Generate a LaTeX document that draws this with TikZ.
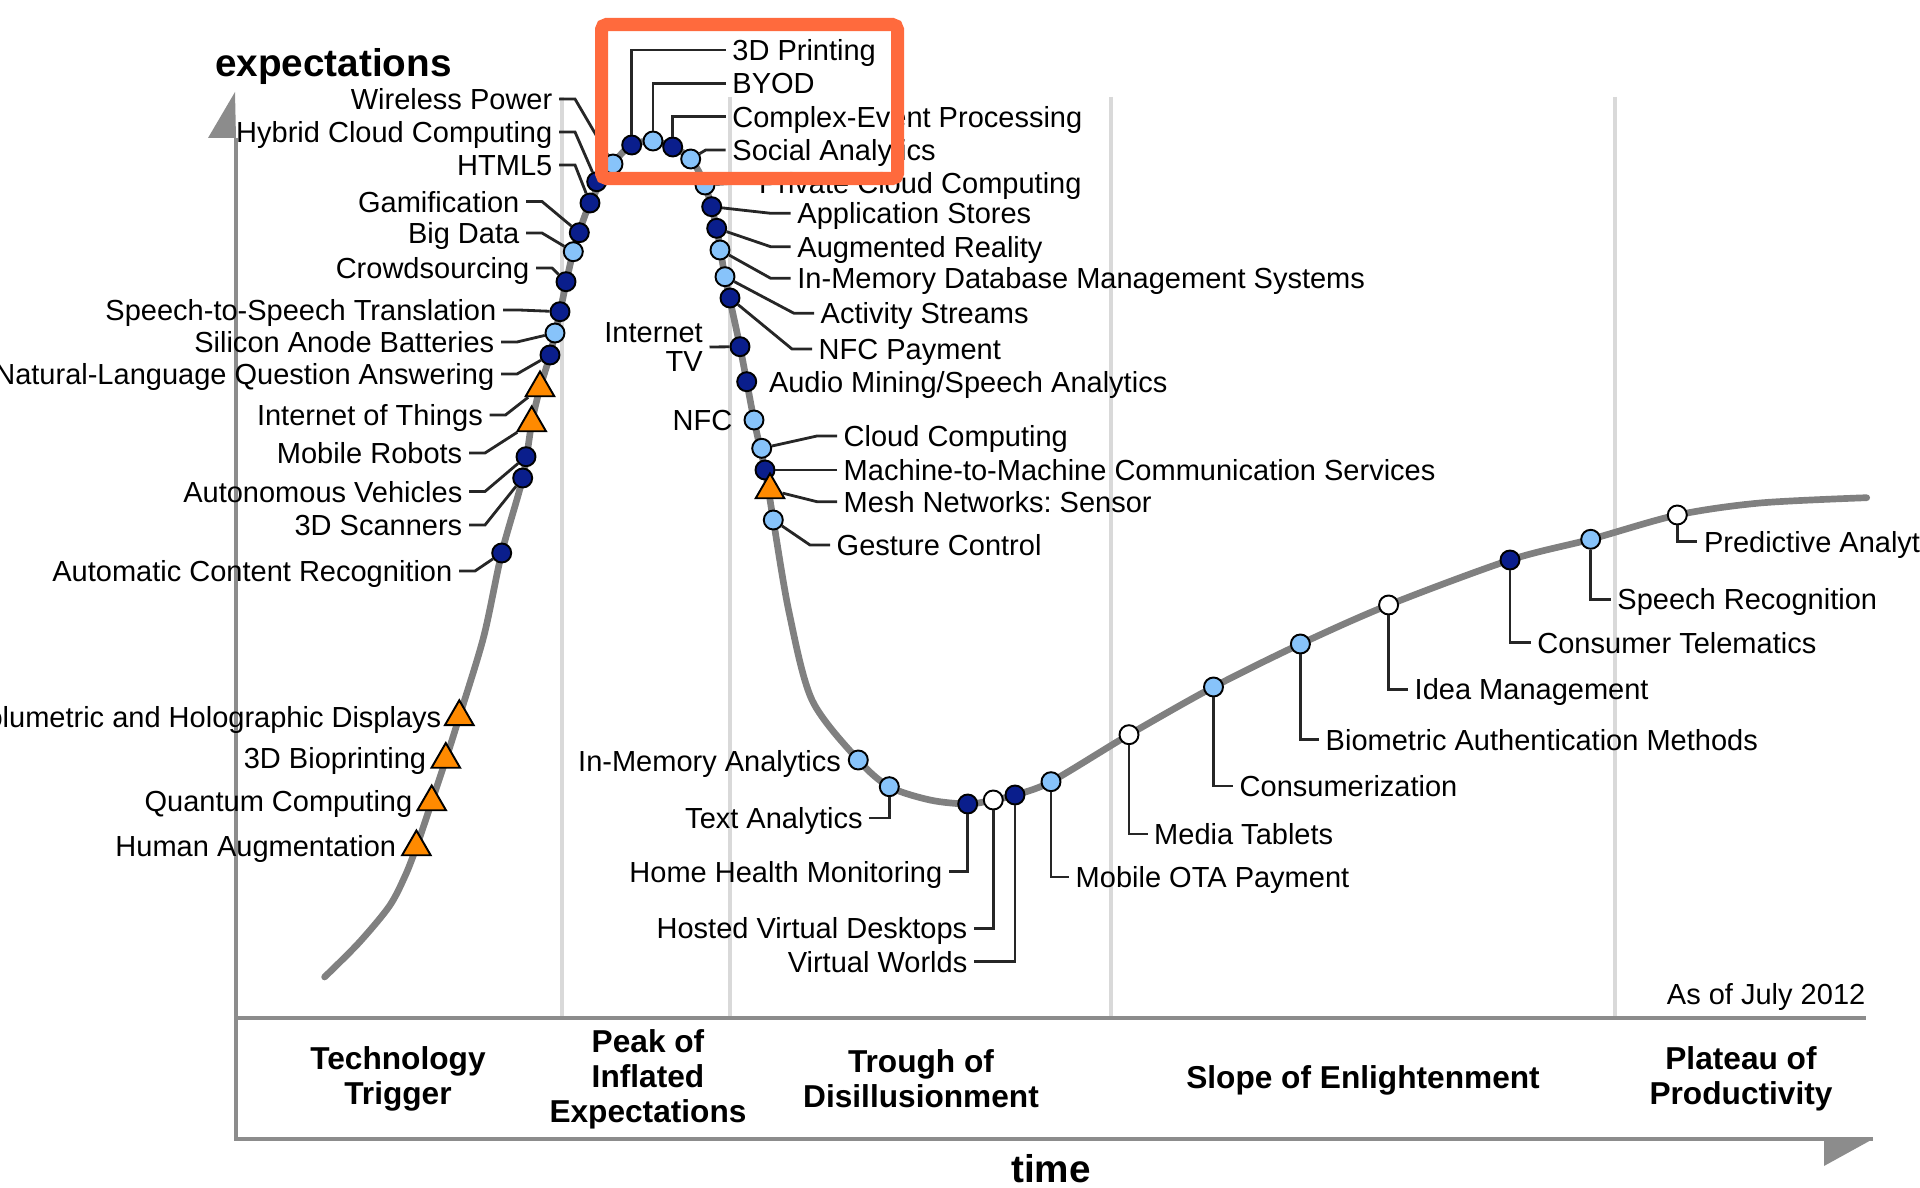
\documentclass[tikz,border=0pt]{standalone}
\usepackage{fontspec}
\setmainfont{Liberation Sans}
\usetikzlibrary{shapes.geometric}
\definecolor{dotnavy}{HTML}{0A1E8C}
\definecolor{dotlight}{HTML}{87C3FA}
\definecolor{dotorange}{HTML}{FF8A00}
\definecolor{hilite}{HTML}{FF6A3D}
\newcommand{\lblsize}{\fontsize{8.25}{9.9}\selectfont}
\newcommand{\phasesize}{\fontsize{9}{9.96}\selectfont\bfseries}
\newcommand{\axissize}{\fontsize{11}{13}\selectfont\bfseries}
\frenchspacing
\tikzset{
  markbase/.style={draw=black, line width=0.55pt, inner sep=0pt},
  navydot/.style={markbase, circle, fill=dotnavy, minimum size=0.19cm},
  lightdot/.style={markbase, circle, fill=dotlight, minimum size=0.19cm},
  whitedot/.style={markbase, circle, fill=white, minimum size=0.19cm},
  oratri/.style={markbase, regular polygon, regular polygon sides=3,
    fill=dotorange, minimum size=0.33cm},
  lbl/.style={font=\lblsize, inner xsep=0.06cm, inner ysep=0pt,
    text height=0.21cm, text depth=0pt},
  phase/.style={font=\phasesize, align=center, inner sep=0pt},
  leader/.style={draw=black!85, line width=0.8pt},
  axisline/.style={draw=black!45, line width=1pt},
  sepline/.style={draw=black!15, line width=1.3pt}
}

\begin{document}
\begin{tikzpicture}[x=0.01cm, y=-0.01cm]
  \useasboundingbox (0,0) rectangle (1920,1188);
  \foreach \x in {562, 730, 1111, 1615}
    \draw[sepline] (\x, 97) -- (\x, 1018);
  \draw[axisline] (236, 138) -- (236, 1139) -- (1873, 1139);
  \draw[axisline] (236, 1018) -- (1866, 1018);
  \fill[black!45] (235, 92) -- (208, 138) -- (236, 138) -- cycle;
  \fill[black!45] (1873, 1139) -- (1824, 1139) -- (1824, 1166) -- cycle;
  \node[font=\axissize, anchor=base, inner sep=0pt] (ylabel) at (333.5, 77) {expectations};
  \node[font=\axissize, anchor=base, inner sep=0pt] (xlabel) at (1051, 1182) {time};
  \node[lbl, anchor=east] (asof) at (1872, 993.6) {As of July 2012};

  \node[phase] (trigger) at (398, 1079) {Technology\\Trigger};
  \node[phase] (peak) at (648, 1079) {Peak of\\Inflated\\Expectations};
  \node[phase] (trough) at (921, 1079) {Trough of\\Disillusionment};
  \node[phase] (slope) at (1363, 1080) {Slope of Enlightenment};
  \node[phase] (plateau) at (1741, 1079) {Plateau of\\Productivity};

  \draw[black!50, line width=1.9pt, line cap=round] plot[smooth, tension=0.5] coordinates {
    (324.6,977) (358.8,942.9) (389.4,906.1) (405.3,875.5) (416.4,847) (431.7,802)
    (445.8,759.5) (459.3,716.8) (483.7,636.7) (501.7,553) (522.7,478) (531.7,423)
    (540,388) (550,355) (560,311.7) (573.3,251.7) (590,203) (613,164) (631.7,145)
    (653,141) (672.7,147) (690.7,159) (705,185) (716.7,228.3) (725,276.7)
    (740,346.7) (754,420) (765,470) (773.3,520) (789,612) (812,700) (858.3,760)
    (889.3,786.7) (930,800) (967.7,804) (993.3,800) (1015,795) (1051,781.7)
    (1129,734.7) (1213.5,687) (1300.4,644) (1388.6,605) (1510,560) (1590.7,539.3)
    (1677.3,515) (1760,503) (1866.7,497.7)};

  \foreach \n/\s/\mx/\my/\lx/\ly/\t in {
      wp/lightdot/613/164/559/99/Wireless Power,
      hy/navydot/596.7/181.7/559/132/Hybrid Cloud Computing,
      ht/navydot/590/203/559/165/HTML5,
      ga/navydot/579.3/232.7/526/201.5/Gamification,
      bd/lightdot/573.3/251.7/526/233/Big Data,
      cs/navydot/566/281.7/536/268/Crowdsourcing,
      ss/navydot/560/311.7/503/310/Speech-to-Speech Translation,
      sa/lightdot/555/333/501/342/Silicon Anode Batteries,
      nl/navydot/550/355/501/374/Natural-Language Question Answering,
      io/oratri/540/388/489.5/415/Internet of Things,
      mr/oratri/531.7/423/469/453/Mobile Robots,
      av/navydot/526/456.7/469/491.5/Autonomous Vehicles,
      sc/navydot/522.7/478/469/525/3D Scanners,
      ac/navydot/501.7/553/459/571/Automatic Content Recognition} {
    \node[lbl, anchor=east] (l-\n) at (\lx, \ly) {\t};
    \node[\s] (m-\n) at (\mx, \my) {};
    \draw[leader] (l-\n.east) -- ++(16, 0) -- (m-\n);
  }

  \foreach \n/\mx/\my/\lx/\ly/\t in {
      vh/459.3/716.8/448/716.8/Volumetric and Holographic Displays,
      bp/445.8/759.5/432.8/757.5/3D Bioprinting,
      qc/431.7/802/419/801.4/Quantum Computing,
      hu/416.4/847/402.8/846.2/Human Augmentation} {
    \node[lbl, anchor=east] (l-\n) at (\lx, \ly) {\t};
    \node[oratri] (m-\n) at (\mx, \my) {};
  }

  \foreach \n/\s/\mx/\my/\ly/\t in {
      pr/navydot/631.7/145/50/3D Printing,
      by/lightdot/653/141/83.3/BYOD,
      ce/navydot/672.7/147/116.7/Complex-Event Processing} {
    \node[lbl, anchor=west] (l-\n) at (725.7, \ly) {\t};
    \node[\s] (m-\n) at (\mx, \my) {};
    \draw[leader] (m-\n) |- (l-\n.west);
  }

  \foreach \n/\s/\mx/\my/\lx/\ly/\t in {
      so/lightdot/690.7/159/725.7/150/Social Analytics,
      pc/lightdot/705/185/752.3/183.3/Private Cloud Computing,
      as/navydot/711.7/206.7/790.7/213.3/Application Stores,
      ar/navydot/716.7/228.3/790.7/246.7/Augmented Reality,
      im/lightdot/720/250/790.7/278.3/In-Memory Database Management Systems,
      at/lightdot/725/276.7/814/313.3/Activity Streams,
      np/navydot/730/298/812/349/NFC Payment,
      cc/lightdot/761.7/448.3/837/436/Cloud Computing,
      mm/navydot/765/470/837/470/Machine-to-Machine Communication Services,
      mn/oratri/770/490/837/501.7/Mesh Networks: Sensor,
      gc/lightdot/773.3/520/830/545/Gesture Control} {
    \node[lbl, anchor=west] (l-\n) at (\lx, \ly) {\t};
    \node[\s] (m-\n) at (\mx, \my) {};
    \draw[leader] (l-\n.west) -- ++(-20, 0) -- (m-\n);
  }

  \node[font={\fontsize{8.25}{8.4}\selectfont}, align=right, anchor=east,
    inner xsep=0.06cm, inner ysep=0pt] (l-it) at (709.5, 347) {Internet\\TV};
  \node[navydot] (m-it) at (740, 346.7) {};
  \draw[leader] (l-it.east) -- (m-it);
  \node[navydot] (m-am) at (746.7, 381.7) {};
  \node[lbl, anchor=west] (l-am) at (762.3, 381.7) {Audio Mining/Speech Analytics};
  \node[lightdot] (m-nf) at (754, 420) {};
  \node[lbl, anchor=east] (l-nf) at (739, 420) {NFC};
  \node[lightdot] (m-ia) at (858.3, 760) {};
  \node[lbl, anchor=east] (l-ia) at (847.7, 761) {In-Memory Analytics};

  \foreach \n/\s/\mx/\my/\lx/\ly/\t in {
      ta/lightdot/889.3/786.7/869.3/818/Text Analytics,
      hh/navydot/967.7/804/949/871.7/Home Health Monitoring,
      hv/whitedot/993.3/800/974/928.3/Hosted Virtual Desktops,
      vw/navydot/1015/795/974/961.7/Virtual Worlds} {
    \node[lbl, anchor=east] (l-\n) at (\lx, \ly) {\t};
    \node[\s] (m-\n) at (\mx, \my) {};
    \draw[leader] (m-\n) |- (l-\n.east);
  }

  \foreach \n/\s/\mx/\my/\lx/\ly/\t in {
      mo/lightdot/1051/781.7/1069/877/Mobile OTA Payment,
      mt/whitedot/1129/734.7/1147.5/834/Media Tablets,
      cz/lightdot/1213.5/687/1233/786/Consumerization,
      ba/lightdot/1300.4/644/1319/739.6/Biometric Authentication Methods,
      id/whitedot/1388.6/605/1408/689.4/Idea Management,
      ct/navydot/1510/560/1530.7/642.7/Consumer Telematics,
      sr/lightdot/1590.7/539.3/1610.7/599.3/Speech Recognition,
      pa/whitedot/1677.3/515/1697.3/541.7/Predictive Analytics} {
    \node[lbl, anchor=west] (l-\n) at (\lx, \ly) {\t};
    \node[\s] (m-\n) at (\mx, \my) {};
    \draw[leader] (m-\n) |- (l-\n.west);
  }

  \draw[hilite, line width=0.13cm, rounded corners=0.05cm] (601.5, 24.5) rectangle (897.5, 178.5);
\end{tikzpicture}
\end{document}
